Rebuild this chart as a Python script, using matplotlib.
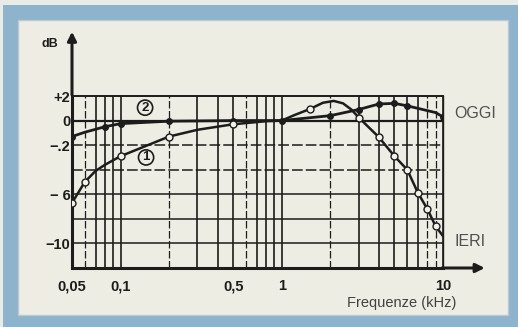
import matplotlib
matplotlib.use('Agg')
import matplotlib.pyplot as plt
from matplotlib.patches import Rectangle

# Frequency response readings (kHz, dB)
freq_oggi = [0.05, 0.06, 0.08, 0.1, 0.2, 0.5, 1, 2, 3, 4, 5, 6, 9, 10]
db_oggi = [-1.3, -0.95, -0.5, -0.25, -0.05, 0, 0, 0.4, 0.9, 1.35, 1.4, 1.2, 0.65, 0.3]
marks_oggi = [0, 2, 3, 4, 5, 6, 7, 8, 9, 10, 11, 13]

freq_ieri = [0.05, 0.06, 0.07, 0.08, 0.1, 0.2, 0.3, 0.5, 0.8, 1, 1.2, 1.5, 1.8, 2.1,
             2.4, 2.7, 3, 4, 5, 6, 7, 8, 9, 10]
db_ieri = [-6.7, -5.0, -4.1, -3.6, -2.9, -1.3, -0.75, -0.3, -0.05, 0, 0.45, 0.95, 1.45,
           1.6, 1.4, 0.9, 0.25, -1.35, -2.9, -4.0, -5.9, -7.2, -8.6, -9.4]
marks_ieri = [0, 1, 4, 5, 7, 11, 16, 17, 18, 19, 20, 21, 22]

x_ticks = [0.05, 0.1, 0.5, 1, 10]
x_labels = ['0,05', '0,1', '0,5', '1', '10']
y_ticks = [2, 0, -2, -6, -10]
y_labels = ['+2', '0', '\u2212.2', '\u2212 6', '\u221210']

grid_x = [0.05, 0.06, 0.07, 0.08, 0.09, 0.1, 0.2, 0.3, 0.4, 0.5, 0.6, 0.7, 0.8, 0.9,
          1, 2, 3, 4, 5, 6, 7, 8, 9, 10]
dashed_x = [0.06, 0.2, 0.6, 2, 8, 9]
grid_y = [0, -2, -4, -6, -8, -10]
dashed_y = [-2, -4]

W, H = 518, 327
fig = plt.figure(figsize=(W / 100, H / 100), dpi=100)
fig.patch.set_facecolor('#e8ebe6')

# blue magazine frame
fig.add_artist(Rectangle((3 / W, 0), 515 / W, 322 / H, transform=fig.transFigure,
                         facecolor='#8db3cd', edgecolor='none', zorder=-10))
fig.add_artist(Rectangle((18 / W, 12 / H), 490 / W, 295 / H, transform=fig.transFigure,
                         facecolor='#eeede4', edgecolor='#b9c9d2', lw=1, zorder=-9))

ax = fig.add_axes([72 / W, 1 - 268 / H, 371 / W, 172 / H])
ax.set_facecolor('none')
ax.set_xscale('log')
ax.set_xlim(0.05, 10)
ax.set_ylim(-12, 2)

ink = '#1c1c1c'
for gx in grid_x:
    ls = (0, (6, 2)) if gx in dashed_x else '-'
    lw = 0.9 if gx in dashed_x else 1.2
    ax.axvline(gx, color=ink, lw=lw, ls=ls, zorder=1)
for gy in grid_y:
    ls = (0, (7, 2)) if gy in dashed_y else '-'
    lw = 1.6 if gy == 0 else 1.1
    ax.axhline(gy, color=ink, lw=lw, ls=ls, zorder=1)

ax.plot(freq_oggi, db_oggi, color=ink, lw=2.0, marker='o', markersize=4,
        markerfacecolor=ink, markeredgecolor=ink, markevery=marks_oggi, zorder=3)
ax.plot(freq_ieri, db_ieri, color=ink, lw=1.8, marker='o', markersize=5,
        markerfacecolor='#f2f2ea', markeredgecolor=ink, markeredgewidth=1.0,
        markevery=marks_ieri, zorder=4)

for s in ['left', 'bottom']:
    ax.spines[s].set_linewidth(2.2)
    ax.spines[s].set_color(ink)
ax.spines['top'].set_linewidth(1.4)
ax.spines['right'].set_linewidth(1.0)
ax.spines['top'].set_color(ink)
ax.spines['right'].set_color(ink)

ax.set_xticks(x_ticks)
ax.set_xticklabels(x_labels)
ax.xaxis.set_minor_locator(matplotlib.ticker.NullLocator())
ax.set_yticks(y_ticks)
ax.set_yticklabels(y_labels)
ax.tick_params(length=0, labelsize=10.5, colors=ink)
ax.tick_params(axis='x', pad=8)
ax.tick_params(axis='y', pad=1)
for lab in ax.get_xticklabels() + ax.get_yticklabels():
    lab.set_fontfamily('Liberation Sans')
    lab.set_fontweight('bold')

# axis arrows
ax.annotate('', xy=(0, 1.39), xytext=(0, 0.99), xycoords='axes fraction',
            arrowprops=dict(arrowstyle='-|>', color=ink, lw=2.2, mutation_scale=13))
ax.annotate('', xy=(1.12, 0), xytext=(0.99, 0), xycoords='axes fraction',
            arrowprops=dict(arrowstyle='-|>', color=ink, lw=2.2, mutation_scale=13))

# circled curve numbers
for num, fx, fy in [('2', 0.142, 1.05), ('1', 0.144, -3.0)]:
    ax.text(fx, fy, num, ha='center', va='center', fontsize=9.5, fontweight='bold',
            family='Liberation Sans', color=ink,
            bbox=dict(boxstyle='circle,pad=0.12', fc='#eeede4', ec=ink, lw=1.2), zorder=5)

fig.text(50 / W, 1 - 44 / H, 'dB', ha='center', va='center', fontsize=9,
         fontweight='bold', family='Liberation Sans', color=ink)
fig.text(454 / W, 1 - 113 / H, 'OGGI', ha='left', va='center', fontsize=11.5,
         family='Liberation Sans', color='#505050')
fig.text(455 / W, 1 - 242 / H, 'IERI', ha='left', va='center', fontsize=11.5,
         family='Liberation Sans', color='#505050')
fig.text(347 / W, 1 - 303 / H, 'Frequenze (kHz)', ha='left', va='center', fontsize=10.5,
         family='Liberation Sans', color='#404040')

fig.savefig('out.png', dpi=100, facecolor=fig.get_facecolor())
